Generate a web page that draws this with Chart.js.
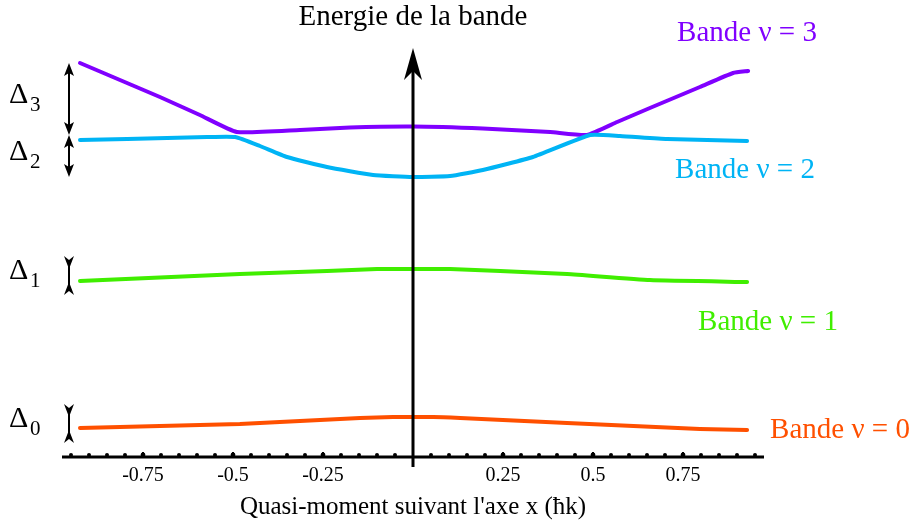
<!DOCTYPE html>
<html>
<head>
<meta charset="utf-8">
<script src="https://cdn.jsdelivr.net/npm/chart.js@4"></script>
<style>
  body { margin: 0; background: #fff; }
  canvas { display: block; }
</style>
</head>
<body>
<canvas id="bandes" width="913" height="526"></canvas>
<script>
// quasi-moment (x) and energy (arbitrary units)
const band3_x = [-0.925, -0.814, -0.703, -0.592, -0.489, -0.314, -0.175, 0, 0.194, 0.381, 0.483, 0.567, 0.658, 0.797, 0.889, 0.931];
const band3_e = [3.94, 3.77, 3.60, 3.42, 3.25, 3.27, 3.295, 3.305, 3.285, 3.25, 3.22, 3.35, 3.49, 3.70, 3.84, 3.86];

const band2_x = [-0.925, -0.794, -0.572, -0.494, -0.425, -0.35, -0.239, -0.111, 0, 0.103, 0.194, 0.333, 0.492, 0.575, 0.706, 0.928];
const band2_e = [3.17, 3.18, 3.20, 3.20, 3.11, 3.00, 2.90, 2.82, 2.80, 2.81, 2.87, 3.00, 3.22, 3.21, 3.18, 3.16];

const band1_x = [-0.925, -0.481, -0.239, -0.1, 0, 0.103, 0.242, 0.428, 0.658, 0.928];
const band1_e = [1.76, 1.83, 1.86, 1.88, 1.88, 1.88, 1.86, 1.83, 1.77, 1.75];

const band0_x = [-0.925, -0.481, -0.147, -0.056, 0.056, 0.131, 0.428, 0.797, 0.928];
const band0_e = [0.29, 0.33, 0.39, 0.40, 0.40, 0.39, 0.34, 0.28, 0.27];

const tick_values = [-0.75, -0.5, -0.25, 0.25, 0.5, 0.75];
const tick_labels = ["-0.75", "-0.5", "-0.25", "0.25", "0.5", "0.75"];
const band_names = ["Bande ν = 0", "Bande ν = 1", "Bande ν = 2", "Bande ν = 3"];
const band_colors = ["#ff5000", "#40ee00", "#00b4f5", "#8000ff"];

const band_x = [band0_x, band1_x, band2_x, band3_x];
const band_e = [band0_e, band1_e, band2_e, band3_e];

const SERIF = '"Liberation Serif", "DejaVu Serif", serif';

function make_points(xs, es) {
    return xs.map((x, i) => ({ x: x, y: es[i] }));
}

// filled arrow head, dir = 1 points down, -1 points up
function arrow_head(ctx, x, tip, dir, len, half, notch) {
    ctx.beginPath();
    ctx.moveTo(x, tip);
    ctx.lineTo(x - half, tip - dir * len);
    ctx.lineTo(x, tip - dir * (len - notch));
    ctx.lineTo(x + half, tip - dir * len);
    ctx.closePath();
    ctx.fill();
}

const decor = {
    id: 'decor',
    afterDatasetsDraw(chart) {
        const ctx = chart.ctx;
        const xs = chart.scales.x;
        const ys = chart.scales.y;
        const y0 = ys.getPixelForValue(0);
        const x0 = xs.getPixelForValue(0);

        ctx.save();
        ctx.fillStyle = '#000';
        ctx.strokeStyle = '#000';

        // horizontal axis
        ctx.lineWidth = 3;
        ctx.beginPath();
        ctx.moveTo(xs.getPixelForValue(-0.975), y0);
        ctx.lineTo(xs.getPixelForValue(0.975), y0);
        ctx.stroke();

        // small ticks every 0.05
        for (let k = -19; k <= 19; k++) {
            if (k == 0) continue;
            const px = xs.getPixelForValue(k * 0.05);
            const major = (k % 5 == 0);
            ctx.beginPath();
            ctx.arc(px, y0 - 2, major ? 2.4 : 2.0, 0, Math.PI * 2);
            ctx.fill();
            if (major) {
                ctx.lineWidth = 2;
                ctx.beginPath();
                ctx.moveTo(px, y0 - 5);
                ctx.lineTo(px, y0);
                ctx.stroke();
            }
        }

        // tick labels
        ctx.font = '20px ' + SERIF;
        ctx.textAlign = 'center';
        ctx.textBaseline = 'middle';
        tick_values.forEach((v, i) => {
            ctx.fillText(tick_labels[i], xs.getPixelForValue(v), y0 + 19);
        });

        // axis title
        ctx.font = '25px ' + SERIF;
        ctx.fillText("Quasi-moment suivant l'axe x (ħk)", x0, y0 + 50);

        // vertical energy axis
        const top = ys.getPixelForValue(4.09);
        ctx.lineWidth = 3;
        ctx.beginPath();
        ctx.moveTo(x0, y0 + 10);
        ctx.lineTo(x0, top + 20);
        ctx.stroke();
        arrow_head(ctx, x0, top, -1, 32, 9, 9);

        ctx.font = '29px ' + SERIF;
        ctx.fillText("Energie de la bande", x0, 17);

        // band names
        const label_pos = [[840, 430], [768, 322], [745, 170], [747, 33]];
        for (let b = 0; b < 4; b++) {
            ctx.fillStyle = band_colors[b];
            ctx.fillText(band_names[b], label_pos[b][0], label_pos[b][1]);
        }

        // band widths, Delta marks
        ctx.fillStyle = '#000';
        const ax = 69;
        for (let b = 0; b < 4; b++) {
            const hi = ys.getPixelForValue(Math.max(...band_e[b]));
            const lo = ys.getPixelForValue(Math.min(...band_e[b]));
            ctx.lineWidth = 2;
            if (b >= 2) {
                ctx.beginPath();
                ctx.moveTo(ax, hi + 6);
                ctx.lineTo(ax, lo - 6);
                ctx.stroke();
                arrow_head(ctx, ax, hi, -1, 13, 5, 3);
                arrow_head(ctx, ax, lo, 1, 13, 5, 3);
            }
            else {
                ctx.beginPath();
                ctx.moveTo(ax, hi - 4);
                ctx.lineTo(ax, lo + 4);
                ctx.stroke();
                arrow_head(ctx, ax, hi, 1, 13, 5, 4);
                arrow_head(ctx, ax, lo, -1, 13, 5, 4);
            }
            const mid = (hi + lo) / 2 - 4;
            ctx.textAlign = 'left';
            ctx.font = '30px ' + SERIF;
            ctx.fillText("Δ", 9, mid);
            ctx.font = '21px ' + SERIF;
            ctx.fillText(String(b), 30, mid + 10);
            ctx.textAlign = 'center';
        }
        ctx.restore();
    }
};

const chart = new Chart(
    document.getElementById('bandes'),
    {
        type: 'line',
        data: {
            datasets: band_x.map((xs, b) => ({
                label: band_names[b],
                data: make_points(xs, band_e[b]),
                borderColor: band_colors[b],
                borderWidth: 4,
                pointRadius: 0,
                tension: 0.15,
                borderCapStyle: 'round',
                fill: false
            }))
        },
        options: {
            responsive: false,
            animation: false,
            devicePixelRatio: 1,
            layout: {
                padding: { left: 62, right: 149, top: 57, bottom: 69 }
            },
            scales: {
                x: { type: 'linear', min: -0.975, max: 0.975, display: false },
                y: { type: 'linear', min: 0, max: 4, display: false }
            },
            plugins: {
                legend: { display: false },
                tooltip: { enabled: false }
            }
        },
        plugins: [decor]
    }
);
</script>
</body>
</html>
